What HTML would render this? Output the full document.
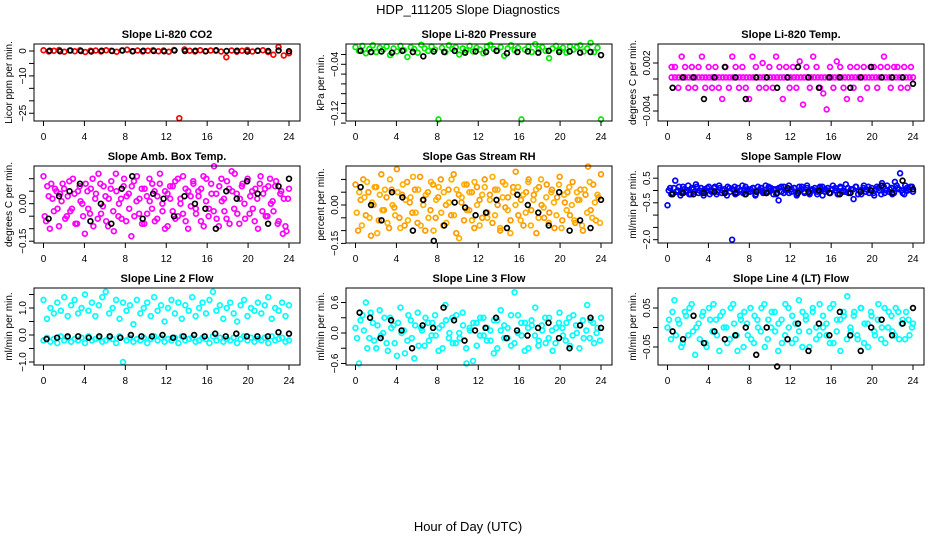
<!DOCTYPE html>
<html><head><meta charset="utf-8">
<style>
html,body{margin:0;padding:0;background:#fff;}
svg{display:block;font-family:"Liberation Sans",Arial,sans-serif;}
</style></head>
<body>
<svg id="chart" width="936" height="540" viewBox="0 0 936 540">
<text x="468" y="14" text-anchor="middle" font-size="13">HDP_111205  Slope Diagnostics</text>
<text x="468" y="531" text-anchor="middle" font-size="13">Hour of Day (UTC)</text>
</svg>
<script>
// ---- data ----
const xTicks = [0,4,8,12,16,20,24];
const p1Red = [0.3,-0.2,0.1,0.4,-0.3,0.2,-0.1,0.3,-0.4,0.1,0.2,-0.2,0.3,0.1,-0.3,0.2,0.5,-0.1,0.2,-0.2,0.1,0.3,-0.1,0.2,-0.3,0.4,-27,0.6,0.1,-0.2,0.3,-0.1,0.2,0.1,-0.2,-2.5,0.2,-0.3,0.1,0.4,-0.2,0.1,0.3,-0.4,-1.5,1.6,-1.8,-0.9];
const p1Black = [0.1,-0.1,0.2,0,-0.2,0.1,0,0.2,-0.1,0.1,0,-0.1,0.2,0,0.1,-0.1,0.3,0,0.1,-0.2,0.1,0,0.2,-0.1];
const p2Green = [-0.012,-0.018,-0.01,-0.022,-0.015,-0.009,-0.02,-0.013,-0.016,-0.011,-0.025,-0.014,-0.019,-0.01,-0.017,-0.028,-0.012,-0.015,-0.021,-0.008,-0.014,-0.018,-0.011,-0.016,-0.13,-0.013,-0.02,-0.009,-0.015,-0.012,-0.024,-0.014,-0.017,-0.01,-0.019,-0.013,-0.016,-0.022,-0.011,-0.008,-0.015,-0.018,-0.012,-0.026,-0.014,-0.009,-0.017,-0.013,-0.13,-0.016,-0.011,-0.02,-0.007,-0.015,-0.012,-0.018,-0.03,-0.014,-0.01,-0.017,-0.013,-0.021,-0.011,-0.016,-0.012,-0.009,-0.019,-0.014,-0.005,-0.02,-0.013,-0.13];
const p2Black = [-0.018,-0.02,-0.019,-0.021,-0.018,-0.02,-0.027,-0.019,-0.02,-0.018,-0.021,-0.019,-0.02,-0.018,-0.022,-0.02,-0.019,-0.021,-0.018,-0.02,-0.019,-0.021,-0.02,-0.025];
const p3MagMid = [0.0002,0.0002,0.0002,0.0002,0.0002,0.0002,0.0002,0.0002,0.0002,0.0002,0.0002,0.0002,0.0002,0.0002,0.0002,0.0002,0.0002,0.0002,0.0002,0.0002,0.0002,0.0002,0.0002,0.0002,0.0002,0.0002,0.0002,0.0002,0.0002,0.0002,0.0002,0.0002,0.0002,0.0002,0.0002,0.0002,0.0002,0.0002,0.0002,0.0002,0.0002,0.0002,0.0002,0.0002,0.0002,0.0002,0.0002,0.0002,0.0002,0.0002,0.0002,0.0002,0.0002,0.0002,0.0002,0.0002,0.0002,0.0002,0.0002,0.0002,0.0002,0.0002,0.0002,0.0002,0.0002,0.0002,0.0002,0.0002,0.0002,0.0002,0.0002,0.0002];
const p3MagScatter = [0.0015,0.0015,-0.0011,0.0028,0.0015,-0.0011,0.0015,-0.0011,0.0015,0.0028,-0.0011,0.0015,-0.0011,0.0015,-0.0011,-0.0025,0.0015,-0.0011,0.0028,0.0015,-0.0011,0.0015,-0.0011,-0.0025,0.0028,0.0015,-0.0011,0.002,-0.0011,0.0015,-0.0011,0.0028,0.0015,-0.0025,0.0015,-0.0011,0.0015,-0.0011,0.0022,-0.0032,0.0015,-0.0011,0.0028,0.0015,-0.0011,-0.0018,-0.0038,0.0015,-0.0011,0.0022,0.0015,-0.0011,-0.0025,0.0015,-0.0011,0.0015,-0.0025,0.0015,-0.0011,0.0015,0.0015,-0.0011,0.0015,0.0028,0.0015,-0.0011,0.0015,0.0015,-0.0011,0.0015,-0.0011,0.0015];
const p3Black = [-0.0011,0.0002,0.0002,-0.0025,0.0002,0.0015,0.0002,-0.0025,0.0002,0.0002,-0.0011,0.0002,0.0015,0.0002,-0.0011,0.0002,0.0002,-0.0011,0.0002,0.0015,0.0002,0.0002,0.0002,-0.0006];
const p4MagA = [0.11,-0.07,0.03,0.08,-0.03,0.05,-0.09,0.01,0.06,-0.05,0.09,-0.02,0.04,-0.08,0.07,0.0,-0.12,0.05,-0.04,0.1,0.02,-0.06,0.08,-0.01,0.03,-0.09,0.06,-0.03,0.12,-0.05,0.02,0.07,-0.07,0.04,-0.13,0.09,0.01,-0.04,0.06,-0.08,0.03,0.1,-0.02,0.05,-0.06,0.08,0.0,-0.1,0.04,0.07,-0.03,0.09,-0.05,0.02,0.11,-0.07,0.05,-0.01,0.08,-0.04,0.03,0.06,-0.09,0.1,-0.02,0.04,0.15,-0.06,0.07,0.01,-0.03,0.09,-0.08,0.05,0.12,-0.04,0.02,0.08,-0.06,0.1,0.03,-0.02,0.06,-0.1,0.11,0.04,-0.05,0.07,0.0,-0.03,0.09,-0.07,0.05,0.02,-0.11,0.06];
const p4MagB = [-0.05,0.07,-0.1,0.02,0.06,-0.02,0.04,0.08,-0.06,0.03,-0.03,0.1,-0.08,0.05,0.01,-0.05,0.08,-0.02,0.06,-0.09,0.04,0.12,-0.04,0.07,-0.07,0.02,0.09,-0.11,0.05,0.0,-0.06,0.1,0.03,-0.02,0.07,-0.05,0.11,0.02,-0.08,0.06,-0.04,0.01,0.08,-0.07,0.03,0.12,-0.03,0.05,-0.09,0.02,0.07,-0.06,0.1,0.0,-0.04,0.06,-0.1,0.03,0.09,-0.02,0.05,-0.07,0.11,0.01,-0.05,0.08,-0.03,0.04,-0.09,0.1,0.02,-0.06,0.06,0.13,-0.02,0.04,-0.08,0.07,0.0,0.09,-0.04,0.05,-0.07,0.02,0.08,-0.03,0.06,-0.05,0.1,0.01,0.07,-0.08,0.04,-0.12,-0.09,0.02];
const p4Black = [-0.06,0.03,0.05,0.08,-0.07,0.0,-0.08,0.06,0.11,-0.06,0.04,0.02,-0.05,0.03,0.0,-0.02,-0.1,0.05,0.02,0.09,0.04,-0.08,0.07,0.1];
const p5OrA = [0.08,-0.1,0.02,0.1,-0.04,0.05,-0.12,0.0,0.07,-0.06,0.12,-0.02,0.03,-0.09,0.06,-0.01,0.14,-0.05,0.04,-0.08,0.09,0.01,-0.03,0.06,-0.07,0.11,0.02,-0.1,0.05,-0.02,0.08,-0.05,0.03,0.1,-0.08,0.0,0.06,-0.04,0.12,-0.11,0.04,0.01,-0.06,0.08,-0.02,0.05,-0.09,0.07,0.02,-0.05,0.1,-0.03,0.04,-0.07,0.06,0.0,-0.1,0.09,-0.01,0.03,-0.06,0.07,0.13,-0.04,0.02,-0.08,0.05,0.1,-0.02,0.04,-0.11,0.07,0.0,-0.05,0.08,-0.03,0.06,-0.09,0.03,0.11,-0.06,0.01,0.05,-0.04,0.09,-0.07,0.02,0.06,-0.1,0.04,0.15,-0.02,0.08,-0.06,0.03,0.12];
const p5OrB = [-0.03,0.05,-0.08,0.03,0.09,-0.05,0.01,0.07,-0.11,0.04,-0.02,0.06,-0.07,0.1,0.0,-0.04,0.05,-0.09,0.08,0.02,-0.06,0.03,0.11,-0.03,0.06,-0.08,0.0,0.04,-0.05,0.09,-0.1,0.02,0.07,-0.03,0.05,-0.07,0.01,0.1,-0.04,0.06,-0.13,0.03,0.08,-0.02,0.05,-0.06,0.09,0.0,-0.08,0.04,0.07,-0.05,0.02,0.11,-0.04,0.06,-0.09,0.03,0.08,-0.02,-0.11,0.05,0.0,0.07,-0.06,0.04,-0.03,0.09,-0.08,0.02,0.06,-0.05,0.1,-0.01,0.03,-0.07,0.05,0.01,-0.04,0.08,-0.09,0.04,-0.02,0.07,0.0,-0.06,0.05,0.02,-0.08,0.06,-0.03,0.09,-0.05,0.01,0.04,-0.07];
const p5Black = [0.07,0.0,-0.06,0.05,0.03,-0.1,0.02,-0.14,-0.08,0.01,-0.01,-0.04,-0.03,0.02,-0.09,0.04,0.0,-0.03,-0.08,0.05,-0.1,-0.06,-0.09,0.02];
const p6BlueA = [-0.6,0.1,-0.1,0.4,0.0,-0.2,0.15,-0.05,0.2,-0.15,0.05,0.25,-0.1,0.1,-0.2,0.0,0.15,-0.05,0.1,-0.15,0.2,-0.1,0.05,-0.2,0.1,-2.0,0.15,-0.1,0.0,0.2,-0.15,0.05,-0.05,0.1,-0.2,0.15,0.0,-0.1,0.2,-0.05,0.1,-0.15,0.05,-0.4,0.15,-0.1,0.0,0.2,-0.05,0.1,-0.2,0.15,0.05,-0.1,0.2,-0.15,0.0,0.1,-0.05,0.15,-0.2,0.05,0.1,-0.1,0.2,0.0,-0.15,0.1,-0.05,0.25,-0.1,0.05,-0.35,0.15,0.0,-0.15,0.2,0.05,-0.1,0.1,-0.2,0.15,0.0,0.3,-0.1,0.2,0.05,-0.15,0.35,0.1,0.7,-0.1,0.2,0.0,0.15,-0.05];
const p6BlueB = [0.0,-0.15,0.1,-0.05,0.15,-0.1,0.05,0.0,-0.15,0.1,-0.05,0.15,0.0,-0.1,0.05,0.1,-0.15,0.0,0.15,-0.05,0.1,0.0,-0.1,0.15,-0.05,0.05,-0.15,0.1,0.0,-0.1,0.15,-0.05,0.05,0.1,-0.15,0.0,0.1,-0.05,-0.1,0.15,0.0,0.05,-0.15,0.1,-0.05,0.15,0.0,-0.1,0.05,0.1,-0.15,0.0,0.15,-0.05,0.1,-0.1,0.05,0.0,-0.15,0.1,0.15,-0.05,0.0,-0.1,0.05,0.1,-0.15,0.15,0.0,-0.05,0.1,-0.1,0.05,0.15,-0.15,0.0,0.1,-0.05,0.15,0.0,-0.1,0.05,0.1,-0.15,0.15,0.0,-0.05,0.1,-0.1,0.2,0.05,0.0,-0.15,0.1,0.05,0.15];
const p6Black = [-0.15,-0.1,-0.15,-0.1,-0.05,-0.1,-0.1,-0.15,-0.05,-0.1,-0.1,0.1,-0.1,-0.05,0.0,-0.1,-0.15,-0.1,-0.05,0.0,0.2,-0.1,0.4,0.05];
const p7CyanUpper = [1.3,0.6,1.0,0.8,1.2,0.9,1.4,0.7,1.1,1.3,0.8,1.0,1.5,0.9,1.2,0.7,1.1,1.4,1.6,0.8,1.0,1.3,0.6,1.2,0.9,1.1,0.4,1.3,0.8,1.0,1.2,0.7,1.4,0.9,1.1,0.5,1.0,1.3,0.8,1.2,0.6,1.1,0.9,1.4,0.7,1.0,1.2,0.8,1.3,1.6,0.9,1.1,0.6,1.0,1.2,0.8,0.5,1.1,1.3,0.7,1.0,0.9,1.2,0.8,1.1,1.4,0.6,1.0,0.9,1.2,0.7,1.1];
const p7CyanLower = [-0.2,-0.1,-0.25,-0.15,-0.3,-0.05,-0.2,-0.1,-0.25,-0.15,-0.2,-0.1,-0.3,-0.05,-0.2,-0.15,-0.1,-0.25,-0.2,-0.1,-0.15,-0.3,-0.05,-1.0,-0.2,-0.1,-0.25,-0.15,-0.2,-0.1,-0.3,-0.15,-0.05,-0.2,-0.1,-0.25,-0.15,-0.2,-0.1,-0.3,-0.05,-0.2,-0.15,-0.1,-0.25,-0.2,-0.1,-0.15,-0.3,-0.05,-0.2,-0.1,-0.25,-0.15,-0.2,-0.1,-0.3,-0.15,-0.05,-0.2,-0.1,-0.25,-0.15,-0.2,-0.1,-0.3,-0.05,-0.2,-0.15,-0.1,-0.25,-0.2];
const p7Black = [-0.15,-0.1,-0.05,-0.05,-0.1,-0.05,-0.05,-0.1,0.0,-0.05,-0.05,0.0,-0.1,-0.05,0.0,-0.05,0.05,-0.05,0.05,-0.05,-0.05,-0.05,0.1,0.05];
const p8CyanA = [0.1,-0.6,0.35,0.6,-0.1,0.2,-0.3,0.45,0.0,-0.2,0.3,0.15,-0.45,0.5,0.05,-0.15,0.25,-0.5,0.4,0.1,-0.25,0.2,-0.05,0.35,-0.35,0.15,0.55,-0.1,0.3,-0.2,0.0,0.4,-0.3,0.1,-0.55,0.2,-0.05,0.3,-0.15,0.05,-0.4,0.25,0.45,-0.1,0.1,-0.25,0.8,0.35,-0.05,0.2,-0.3,0.15,0.5,-0.15,0.05,-0.2,0.3,-0.35,0.1,0.4,-0.05,0.2,-0.25,0.35,0.0,0.15,-0.1,0.55,0.25,-0.2,0.1,0.3];
const p8CyanB = [-0.1,0.25,0.05,-0.3,0.4,-0.15,0.15,-0.05,0.3,-0.35,0.1,-0.2,0.2,0.0,-0.4,0.35,-0.1,0.15,-0.25,0.05,0.3,-0.15,0.2,-0.05,0.1,-0.3,0.25,0.0,-0.2,0.35,-0.1,0.15,-0.6,0.05,0.2,-0.25,0.3,-0.05,0.1,-0.15,0.25,-0.3,0.05,0.15,-0.1,0.35,-0.2,0.0,0.2,-0.35,0.1,0.25,-0.05,-0.25,0.15,0.3,-0.1,0.05,-0.2,0.2,0.1,-0.15,0.3,-0.05,0.15,-0.3,0.25,0.05,-0.1,0.2,0.0,-0.15];
const p8Black = [0.4,0.3,-0.1,0.25,0.05,-0.3,0.15,0.1,0.5,0.25,-0.15,0.05,0.1,0.3,-0.1,0.05,-0.05,0.1,0.2,-0.1,-0.3,0.15,0.3,0.1];
const p9CyanA = [0.0,-0.03,0.07,0.02,-0.05,0.04,-0.02,0.06,-0.07,0.01,0.03,-0.04,0.05,-0.01,0.02,-0.06,0.04,0.0,-0.03,0.06,-0.02,0.03,-0.05,0.01,0.05,-0.04,0.02,-0.01,0.06,-0.03,0.0,0.04,-0.06,0.02,-0.02,0.05,-0.04,0.01,0.07,-0.05,0.03,-0.01,0.04,-0.03,0.06,0.0,-0.02,0.05,-0.04,0.02,-0.06,0.03,0.08,-0.01,0.04,-0.03,0.05,0.01,-0.05,0.03,-0.02,0.06,0.0,-0.04,0.04,-0.01,0.05,-0.03,0.02,0.04,-0.02,0.01];
const p9CyanB = [0.02,0.04,-0.02,0.01,-0.04,0.03,0.05,-0.01,0.0,-0.03,0.04,-0.05,0.02,0.06,-0.02,0.03,0.0,-0.04,0.05,0.01,-0.06,0.02,0.04,-0.02,-0.03,0.03,0.0,0.05,-0.05,0.02,0.04,-0.01,0.01,-0.04,0.06,0.0,0.03,-0.03,-0.01,0.04,0.02,-0.05,0.05,0.0,-0.02,0.03,0.01,-0.04,0.06,-0.01,0.02,0.04,-0.03,0.0,0.03,-0.02,0.05,-0.04,0.01,0.04,-0.01,0.02,-0.03,0.05,0.0,0.03,-0.02,0.04,0.01,-0.03,0.02,0.0];
const p9Black = [-0.01,-0.03,0.03,-0.04,-0.01,-0.03,-0.02,0.0,-0.07,0.0,-0.1,-0.03,0.01,-0.06,0.01,-0.02,0.04,-0.02,-0.06,0.0,0.02,-0.02,0.01,0.05];

// ---- rendering ----
const NS = 'http://www.w3.org/2000/svg';
const svg = document.getElementById('chart');
function mk(tag, attrs, parent){const e=document.createElementNS(NS,tag);for(const k in attrs)e.setAttribute(k,attrs[k]);(parent||svg).appendChild(e);return e;}

const panels = [
 {title:'Slope Li-820 CO2', ylab:'Licor ppm per min.', r:0,c:0, y0:51, k:2.49, ticks:[0,-5,-10,-15,-20,-25], labels:{'0':'0','-10':'−10','-25':'−25'},
  series:[[p1Red,'#ff0000',0,24],[p1Black,'#000',0.6,24]]},
 {title:'Slope Li-820 Pressure', ylab:'kPa per min.', r:0,c:1, y0:39.8, k:612.5, ticks:[-0.024,-0.04,-0.056,-0.072,-0.088,-0.104,-0.12,-0.136], labels:{'-0.04':'−0.04','-0.12':'−0.12'},
  series:[[p2Green,'#00ee00',0,24],[p2Black,'#000',0.5,24]]},
 {title:'Slope Li-820 Temp.', ylab:'degrees C per min.', r:0,c:2, y0:79, k:8000, ticks:[0.002,0,-0.002,-0.004], labels:{'0.002':'0.002','-0.004':'−0.004'},
  series:[[p3MagMid,'#ff00ff',0.4,24],[p3MagScatter,'#ff00ff',0.4,23.8],[p3Black,'#000',0.5,24]]},
 {title:'Slope Amb. Box Temp.', ylab:'degrees C per min.', r:1,c:0, y0:81.7, k:250, ticks:[0.1,0.05,0,-0.05,-0.1,-0.15], labels:{'0':'0.00','-0.15':'−0.15'},
  series:[[p4MagA,'#ff00ff',0,24],[p4MagB,'#ff00ff',0.12,23.9],[p4Black,'#000',0.5,24]]},
 {title:'Slope Gas Stream RH', ylab:'percent per min.', r:1,c:1, y0:83, k:256, ticks:[0.1,0.05,0,-0.05,-0.1,-0.15], labels:{'0':'0.00','-0.15':'−0.15'},
  series:[[p5OrA,'#ff9900',0,24],[p5OrB,'#ffb000',0.12,23.9],[p5Black,'#000',0.5,24]]},
 {title:'Slope Sample Flow', ylab:'ml/min per min.', r:1,c:2, y0:68.5, k:24.6, ticks:[0.5,0,-0.5,-1,-1.5,-2], labels:{'0.5':'0.5','-0.5':'−0.5','-2':'−2.0'},
  series:[[p6BlueA,'#0000ff',0,24],[p6BlueB,'#0000ff',0.12,23.9],[p6Black,'#000',0.5,24]]},
 {title:'Slope Line 2 Flow', ylab:'ml/min per min.', r:2,c:0, y0:91, k:27, ticks:[1.5,1,0.5,0,-0.5,-1], labels:{'1':'1.0','0':'0.0','-1':'−1.0'},
  series:[[p7CyanUpper,'#00ffff',0,24],[p7CyanLower,'#00ffff',0,24],[p7Black,'#000',0.3,24]]},
 {title:'Slope Line 3 Flow', ylab:'ml/min per min.', r:2,c:1, y0:89, k:50.8, ticks:[0.6,0.3,0,-0.3,-0.6], labels:{'0.6':'0.6','0':'0.0','-0.6':'−0.6'},
  series:[[p8CyanA,'#00ffff',0,24],[p8CyanB,'#00ffff',0.15,23.9],[p8Black,'#000',0.4,24]]},
 {title:'Slope Line 4 (LT) Flow', ylab:'ml/min per min.', r:2,c:2, y0:83.5, k:390, ticks:[0.05,0,-0.05], labels:{'0.05':'0.05','-0.05':'−0.05'},
  series:[[p9CyanA,'#00ffff',0,24],[p9CyanB,'#00ffff',0.15,23.9],[p9Black,'#000',0.5,24]]}
];

panels.forEach((p,pi)=>{
  const ox=p.c*312, oy=p.r*122;
  const g=mk('g',{});
  
  
  const xs=h=>43.5+ox+h*(245.5/24);
  const ys=v=>oy+p.y0-v*p.k;
  const t=mk('text',{x:167+ox,y:38+oy,'text-anchor':'middle','font-size':11,'font-weight':'bold'},g);
  t.textContent=p.title;
  
  
  p.series.forEach((s,si)=>{
    const [vals,col,h0,h1]=s;
    const sg=mk('g',{fill:'none',stroke:col,'stroke-width':1.7},g);
    
    
    vals.forEach((v,i)=>{
      const h=h0+(h1-h0)*i/(vals.length-1);
      const c=mk('circle',{cx:xs(h).toFixed(2),cy:ys(v).toFixed(2),r:2.4},sg);
      
      
    });
  });
  const b=mk('rect',{x:34+ox,y:44+oy,width:266,height:77,fill:'none',stroke:'#000','stroke-width':1},g);
  
  
  xTicks.forEach(h=>{
    const x=xs(h);
    mk('line',{x1:x,x2:x,y1:121+oy,y2:126+oy,stroke:'#000'},g);
    const l=mk('text',{x:x,y:140+oy,'text-anchor':'middle','font-size':10},g);
    l.textContent=h;
    
    
  });
  p.ticks.forEach(v=>{
    const y=ys(v);
    mk('line',{x1:29+ox,x2:34+ox,y1:y,y2:y,stroke:'#000'},g);
    const key=String(v);
    if(p.labels[key]!==undefined){
      const l=mk('text',{x:0,y:0,'text-anchor':'middle','font-size':10,transform:`translate(${26+ox},${y}) rotate(-90)`},g);
      l.textContent=p.labels[key];
      
      
    }
  });
  const yl=mk('text',{x:0,y:0,'text-anchor':'middle','font-size':10,transform:`translate(${12+ox},${82.5+oy}) rotate(-90)`},g);
  yl.textContent=p.ylab;
  
  
});
</script>
</body></html>
